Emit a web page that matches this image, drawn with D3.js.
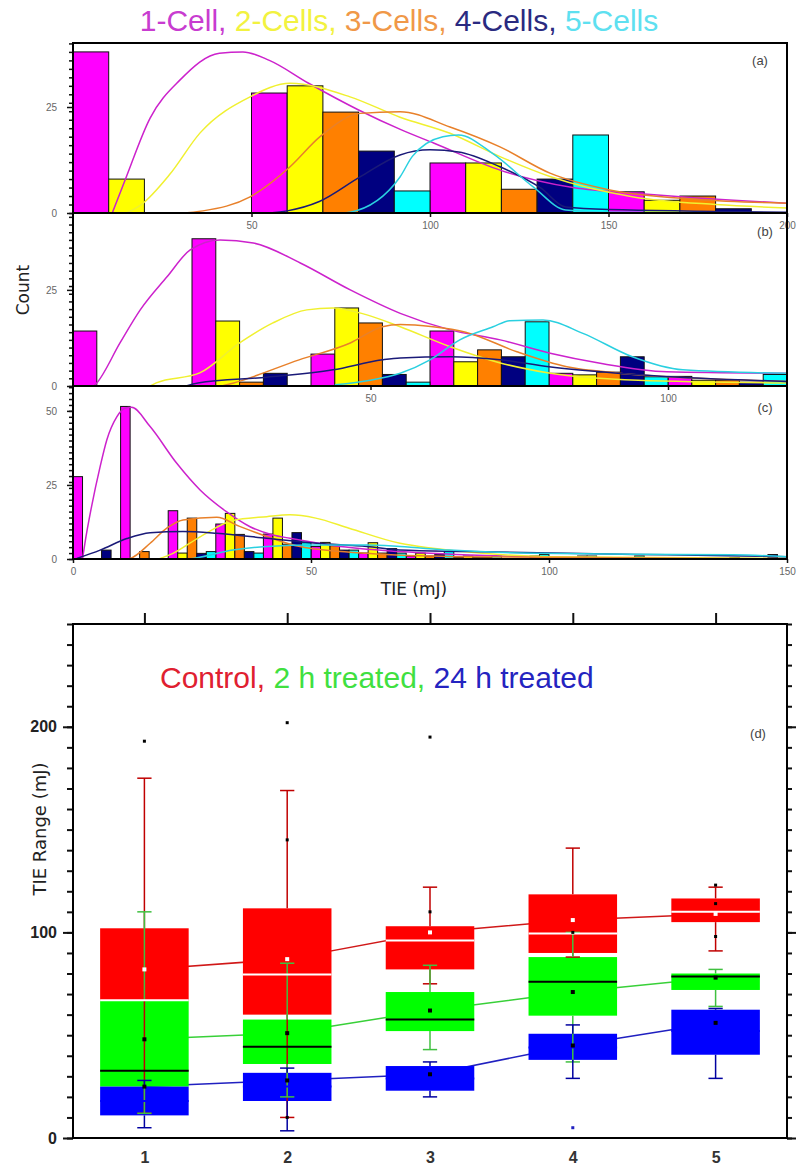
<!DOCTYPE html>
<html>
<head>
<meta charset="utf-8">
<script src="https://cdn.jsdelivr.net/npm/d3@7"></script>
<style>
  body { margin: 0; background: #fff; }
  svg { display: block; }
  text { font-family: "Liberation Sans", Arial, sans-serif; }
</style>
</head>
<body>
<div id="chart"></div>
<script>
// ---------- histogram data (panels a, b, c) ----------
const cells = ["1-Cell", "2-Cells", "3-Cells", "4-Cells", "5-Cells"];
const barColors = ["#ff00ff", "#ffff00", "#ff8000", "#000080", "#00ffff"];
const curveColors = ["#cc22cc", "#f0f030", "#e8802a", "#1a1a78", "#2ad0e0"];
const titleColors = ["#c83cd0", "#f2f240", "#f09848", "#2a2a80", "#5ee0f0"];

// (a) bins of 50 mJ, one slot per cell group
const binStartA = [0, 50, 100, 150];
const countsA = [
  [38, 28.3, 11.8, 5],
  [8, 30, 11.8, 3],
  [0, 23.8, 5.6, 4],
  [0, 14.6, 8, 1],
  [0, 5.2, 18.4, 0]
];
const fitsA = [
  [[11,0],[14.6,7.8],[21.6,22.4],[30,31.4],[41,37.7],[47.6,38],[55,36],[66,30.6],[80,24.3],[92,19.6],[101,16.5],[120,10],[140,6],[160,4.5],[185,3],[200,2.3]],
  [[15,0],[19,1.9],[27,9],[35.6,18.9],[49.6,27.4],[60.8,30.6],[77.6,27.4],[91.6,22.6],[105.6,18.8],[119.6,13.3],[133.6,8.6],[157,3.8],[180,2],[200,1.2]],
  [[30,0],[36.4,0.5],[49.6,3.8],[60.8,10.9],[69.2,18],[80.4,23.5],[91.6,23.9],[105.6,20.3],[119.6,15.6],[133.6,9.4],[150,5.5],[175,3.2],[200,2.3]],
  [[55,0],[60,0.5],[69,2.7],[80.4,8.5],[91.6,13.7],[100,14.9],[108,14.4],[119.6,10.9],[131,5.9],[138,1.4],[150,0.8],[200,0.2]],
  [[75,0],[77.6,0.2],[91.6,8.5],[95,13.3],[103.6,18],[108,18.4],[117.6,14],[129,6.1],[138,0.7],[150,0.2],[200,0]]
];

// (b) bins of 20 mJ
const binStartB = [0, 20, 40, 60, 80, 100];
const countsB = [
  [14.3, 38.3, 8.3, 14.3, 3.3, 2.5],
  [0, 16.9, 20.3, 6.3, 2.9, 1.5],
  [0, 1, 16.4, 9.4, 3.6, 1.5],
  [0, 3.3, 3, 7.6, 7.6, 1],
  [0, 0, 1, 16.7, 2.4, 3]
];
const fitsB = [
  [[3.5,0],[4,0.8],[7.9,11.2],[11.3,19.8],[15.8,28.4],[19.7,35.4],[24.7,38],[30.3,37.2],[38.2,32],[46.6,25],[55,18.9],[63.4,14.6],[71.8,12],[80.2,8.5],[88.6,5.9],[99.8,3.7],[120,3.3]],
  [[13,0],[14,0.8],[21.3,3.4],[28,11.2],[33.6,16.4],[39.3,19.8],[43.7,20.3],[49.4,18.5],[55,15.4],[63.4,10.2],[71.8,6],[80,3.4],[95,1.5],[120,0.8]],
  [[25,0],[27,0.8],[38,6.8],[46.6,11.2],[52,15.4],[55,16],[60.5,15.4],[66,14],[74.6,8.9],[83,5],[91.4,3.4],[105,2],[120,1.2]],
  [[19,0],[21,0.8],[32.6,2.3],[43.7,4.2],[52,6.8],[55,7.3],[63.4,7.6],[71.8,6.8],[80,5],[91,3.4],[102,2.3],[120,1.2]],
  [[44,0.3],[50,1.5],[55,3.3],[60,6.8],[65,12],[70.6,15.4],[73.4,17],[79,17.2],[85.7,13.7],[94,7.6],[102.5,4.2],[120,3.3]]
];

// (c) bins of 10 mJ
const binStartC = [0, 10, 20, 30, 40, 50, 60, 70, 80, 90, 100, 110, 120, 130, 140];
const countsC = [
  [27.8, 51.5, 16.3, 11.8, 8.4, 4.2, 2, 1, 0.5, 0, 0, 0, 0, 0, 0],
  [0, 0, 2, 15.4, 13.8, 5.6, 5.5, 2, 1, 0, 0, 0, 0, 0, 0],
  [0, 2.5, 13.8, 8.3, 5, 4.5, 2, 1, 0.5, 0, 0, 0, 0, 0, 0],
  [3, 0, 1.9, 2.5, 8.9, 3, 3.5, 1.5, 0.5, 1, 1, 0, 0, 0, 1.5],
  [0, 0, 2.5, 2, 5.5, 3, 2, 2.5, 1, 1.5, 1, 1, 0.5, 0.5, 0]
];
const fitsC = [
  [[2,0],[2.5,5.3],[3.9,17.7],[5.7,31.2],[7.1,40.2],[9.2,48],[10.9,50.9],[12.3,51.2],[16.2,44.7],[21.8,32.3],[26.7,23.3],[32.3,15.9],[37.2,10.9],[42,8.1],[45.6,7],[55,4.5],[68.7,2.5],[90,1],[120,0.3]],
  [[18,0],[21,1.9],[26.7,7.5],[33.6,13],[40.7,14.3],[45.6,14.9],[51,13.8],[58,10.4],[68.7,5.3],[75.6,3.6],[86,1.9],[100,0.8],[150,0.2]],
  [[11,0],[12,0.2],[16.2,5.3],[19.7,10.4],[23.1,13.2],[30.2,14.1],[35,11],[40.7,7.6],[47.7,4.2],[61.8,1.9],[80,0.8],[150,0.1]],
  [[0.8,0.2],[5.7,3],[11.3,6.9],[16.2,8.9],[23.1,9.3],[30.2,8.7],[40.7,7],[51.2,5.3],[61.8,4.2],[68.7,3],[82.8,2.5],[103.8,1.9],[124.8,1.4],[150,0.8]],
  [[24,0],[25.2,0.2],[33.6,3],[40.7,4.2],[51.2,4.7],[61.8,4.7],[68.7,4.2],[79,3],[96.6,1.9],[117.6,1.6],[138.7,1.4],[150,0.8]]
];

// ---------- box chart data (panel d) ----------
const groupsD = [1, 2, 3, 4, 5];
const treatments = ["Control", "2 h treated", "24 h treated"];
const boxColors = ["#ff0000", "#00ff00", "#0000ff"];
const lineColors = ["#d01818", "#38d038", "#2020c0"];
const whiskerColors = ["#c00000", "#40c040", "#0000a0"];
const medianColors = ["#ffffff", "#000000", "#0000ff"];
const meanColors = ["#ffffff", "#000000", "#000000"];
const legendColors = ["#e02030", "#40e040", "#2424c0"];
const q1D = [[67, 60, 82, 90, 105], [25, 36, 52, 59.5, 72], [11, 18, 23, 38, 40.5]];
const q3D = [[102, 111.7, 103, 118.5, 116.5], [67, 57.6, 71, 88, 80], [25, 31.7, 35, 50.7, 62.4]];
const medianD = [[67, 79.5, 96, 99.5, 110], [32.7, 44.4, 57.6, 76, 78.5], [18, 25, 29, 44, 52]];
const meanD = [[82, 87, 100, 106, 109], [48, 51, 62, 71, 78], [25, 28, 31, 45, 56]];
const whiskerLoD = [[12, 10, 75, 88, 91], [12, 20, 43, 37, 64], [5, 3.5, 20, 29, 29]];
const whiskerHiD = [[175, 169, 122, 141, 122], [110, 85, 84, 100, 82], [28, 34, 37, 55, 63]];
const outliersD = [
  [[1, 193], [2, 202], [2, 145], [2, 10], [3, 195], [3, 110], [4, 100], [5, 123], [5, 114], [5, 98]],
  [],
  [[4, 5]]
];

// ---------- layout ----------
const W = 799, H = 1168;
const L = 73, R = 787;

const svg = d3.select("#chart").append("svg")
    .attr("width", W)
    .attr("height", H)
    .style("background", "#fff");

const panels = [
  { id: "a", top: 43, bottom: 213, xMax: 200, yMax: 40.1, binStart: binStartA, binWidth: 50,
    counts: countsA, fits: fitsA, xTicks: [50, 100, 150, 200], yTicks: [0, 25] },
  { id: "b", top: 213, bottom: 386, xMax: 120, yMax: 45, binStart: binStartB, binWidth: 20,
    counts: countsB, fits: fitsB, xTicks: [50, 100], yTicks: [0, 25] },
  { id: "c", top: 386, bottom: 559, xMax: 150, yMax: 58.4, binStart: binStartC, binWidth: 10,
    counts: countsC, fits: fitsC, xTicks: [0, 50, 100, 150], yTicks: [0, 25, 50] }
];

// title line with coloured group names
const title = svg.append("text")
    .attr("x", 399)
    .attr("y", 31)
    .attr("text-anchor", "middle")
    .style("font-size", "30px");
cells.forEach((c, i) => {
    title.append("tspan")
        .attr("fill", titleColors[i])
        .text(c + (i < cells.length - 1 ? ", " : ""));
});

function drawPanel(p) {
    const x = d3.scaleLinear().domain([0, p.xMax]).range([L, R]);
    const y = d3.scaleLinear().domain([0, p.yMax]).range([p.bottom, p.top]);
    const clipId = "clip-" + p.id;
    svg.append("clipPath").attr("id", clipId)
        .append("rect")
        .attr("x", L).attr("y", p.top)
        .attr("width", R - L).attr("height", p.bottom - p.top);

    const slot = p.binWidth / cells.length;
    const bars = [];
    p.counts.forEach((arr, s) => arr.forEach((c, b) => {
        if (c > 0) bars.push({ s: s, x0: p.binStart[b] + s * slot, c: c });
    }));

    const g = svg.append("g").attr("clip-path", `url(#${clipId})`);
    g.append("g").selectAll("rect")
        .data(bars)
        .join("rect")
        .attr("x", d => x(d.x0))
        .attr("width", d => x(d.x0 + slot) - x(d.x0))
        .attr("y", d => y(d.c))
        .attr("height", d => y(0) - y(d.c))
        .attr("fill", d => barColors[d.s])
        .attr("stroke", "#111")
        .attr("stroke-width", 1);

    const line = d3.line()
        .x(d => x(d[0]))
        .y(d => y(d[1]))
        .curve(d3.curveMonotoneX);
    g.append("g").selectAll("path")
        .data(p.fits)
        .join("path")
        .attr("d", line)
        .attr("fill", "none")
        .attr("stroke", (d, i) => curveColors[i])
        .attr("stroke-width", 1.5);

    // minor ticks on the left
    svg.append("g")
        .attr("transform", `translate(${L},0)`)
        .call(d3.axisLeft(y).tickValues(d3.range(0, p.yMax, 2)).tickSize(4).tickSizeOuter(0).tickFormat(""))
        .call(a => a.select(".domain").remove())
        .call(a => a.selectAll("line").attr("stroke", "#111").attr("stroke-width", 1.5));
    svg.append("g")
        .attr("transform", `translate(${L},0)`)
        .call(d3.axisLeft(y).tickValues(p.yTicks).tickSize(6).tickPadding(10).tickSizeOuter(0))
        .call(a => a.select(".domain").remove())
        .call(a => a.selectAll("line").attr("stroke", "#111").attr("stroke-width", 1.5))
        .call(a => a.selectAll("text").attr("fill", "#666").style("font-size", "10px"));
    svg.append("g")
        .attr("transform", `translate(0,${p.bottom})`)
        .call(d3.axisBottom(x).tickValues(p.xTicks).tickSize(4).tickPadding(5).tickSizeOuter(0))
        .call(a => a.select(".domain").remove())
        .call(a => a.selectAll("line").attr("stroke", "#111").attr("stroke-width", 1.5))
        .call(a => a.selectAll("text").attr("fill", "#666").style("font-size", "10px"));

    svg.append("rect")
        .attr("x", L).attr("y", p.top)
        .attr("width", R - L).attr("height", p.bottom - p.top)
        .attr("fill", "none")
        .attr("stroke", "#000")
        .attr("stroke-width", 2);
}

panels.forEach(drawPanel);

const tags = [["(a)", 760, 65], ["(b)", 765, 236], ["(c)", 765, 412]];
tags.forEach(t => {
    svg.append("text")
        .attr("x", t[1]).attr("y", t[2])
        .attr("text-anchor", "middle")
        .attr("fill", "#444")
        .style("font-size", "13px")
        .text(t[0]);
});

svg.append("text")
    .attr("transform", "translate(29,290) rotate(-90)")
    .attr("text-anchor", "middle")
    .attr("fill", "#222")
    .style("font-family", "'DejaVu Sans', sans-serif")
    .style("font-size", "17px")
    .text("Count");
svg.append("text")
    .attr("x", 414).attr("y", 595)
    .attr("text-anchor", "middle")
    .attr("fill", "#222")
    .style("font-family", "'DejaVu Sans', sans-serif")
    .style("font-size", "17px")
    .text("TIE (mJ)");

// ---------- panel d: box chart ----------
const dTop = 624, dBottom = 1138;
const xD = d3.scaleLinear().domain([0.5, 5.5]).range([L, R]);
const yD = d3.scaleLinear().domain([0, 250]).range([dBottom, dTop]);
const halfBox = 0.31, halfCap = 0.05;

const gd = svg.append("g");

// lines through the means
const meanLine = d3.line().x((d, i) => xD(groupsD[i])).y(d => yD(d));
gd.append("g").selectAll("path")
    .data(meanD)
    .join("path")
    .attr("d", meanLine)
    .attr("fill", "none")
    .attr("stroke", (d, i) => lineColors[i])
    .attr("stroke-width", 1.5);

// boxes
treatments.forEach((t, s) => {
    gd.append("g").selectAll("rect")
        .data(groupsD)
        .join("rect")
        .attr("x", g => xD(g - halfBox))
        .attr("width", g => xD(g + halfBox) - xD(g - halfBox))
        .attr("y", (g, i) => yD(q3D[s][i]))
        .attr("height", (g, i) => yD(q1D[s][i]) - yD(q3D[s][i]))
        .attr("fill", boxColors[s]);
});

// whiskers and caps
treatments.forEach((t, s) => {
    const wg = gd.append("g").attr("stroke", whiskerColors[s]).attr("stroke-width", 1.5);
    wg.selectAll("line.lo")
        .data(groupsD)
        .join("line")
        .attr("class", "lo")
        .attr("x1", g => xD(g)).attr("x2", g => xD(g))
        .attr("y1", (g, i) => yD(q1D[s][i])).attr("y2", (g, i) => yD(whiskerLoD[s][i]));
    wg.selectAll("line.hi")
        .data(groupsD)
        .join("line")
        .attr("class", "hi")
        .attr("x1", g => xD(g)).attr("x2", g => xD(g))
        .attr("y1", (g, i) => yD(q3D[s][i])).attr("y2", (g, i) => yD(whiskerHiD[s][i]));
    wg.selectAll("line.caplo")
        .data(groupsD)
        .join("line")
        .attr("class", "caplo")
        .attr("x1", g => xD(g - halfCap)).attr("x2", g => xD(g + halfCap))
        .attr("y1", (g, i) => yD(whiskerLoD[s][i])).attr("y2", (g, i) => yD(whiskerLoD[s][i]));
    wg.selectAll("line.caphi")
        .data(groupsD)
        .join("line")
        .attr("class", "caphi")
        .attr("x1", g => xD(g - halfCap)).attr("x2", g => xD(g + halfCap))
        .attr("y1", (g, i) => yD(whiskerHiD[s][i])).attr("y2", (g, i) => yD(whiskerHiD[s][i]));
});

// medians, means, outliers
treatments.forEach((t, s) => {
    gd.append("g").selectAll("line")
        .data(groupsD)
        .join("line")
        .attr("x1", g => xD(g - halfBox)).attr("x2", g => xD(g + halfBox))
        .attr("y1", (g, i) => yD(medianD[s][i])).attr("y2", (g, i) => yD(medianD[s][i]))
        .attr("stroke", medianColors[s])
        .attr("stroke-width", 2);
    gd.append("g").selectAll("rect")
        .data(groupsD)
        .join("rect")
        .attr("x", g => xD(g) - 2)
        .attr("y", (g, i) => yD(meanD[s][i]) - 2)
        .attr("width", 4).attr("height", 4)
        .attr("fill", meanColors[s]);
    gd.append("g").selectAll("rect")
        .data(outliersD[s])
        .join("rect")
        .attr("x", d => xD(d[0]) - 1.5)
        .attr("y", d => yD(d[1]) - 1.5)
        .attr("width", 3).attr("height", 3)
        .attr("fill", s === 2 ? "#2020c0" : "#000");
});

// axes of panel d
const yMinorD = d3.range(0, 251, 10);
svg.append("g")
    .attr("transform", `translate(${L},0)`)
    .call(d3.axisLeft(yD).tickValues(yMinorD).tickSize(6).tickSizeOuter(0).tickFormat(""))
    .call(a => a.select(".domain").remove())
    .call(a => a.selectAll("line").attr("stroke", "#111").attr("stroke-width", 2));
svg.append("g")
    .attr("transform", `translate(${L},0)`)
    .call(d3.axisLeft(yD).tickValues([0, 100, 200]).tickSize(10).tickPadding(6).tickSizeOuter(0))
    .call(a => a.select(".domain").remove())
    .call(a => a.selectAll("line").attr("stroke", "#111").attr("stroke-width", 2))
    .call(a => a.selectAll("text").attr("fill", "#222").style("font-size", "16px").style("font-weight", "bold"));
svg.append("g")
    .attr("transform", `translate(${R},0)`)
    .call(d3.axisRight(yD).tickValues(yMinorD).tickSize(5).tickSizeOuter(0).tickFormat(""))
    .call(a => a.select(".domain").remove())
    .call(a => a.selectAll("line").attr("stroke", "#111").attr("stroke-width", 2));
svg.append("g")
    .attr("transform", `translate(${R},0)`)
    .call(d3.axisRight(yD).tickValues([0, 100, 200]).tickSize(9).tickSizeOuter(0).tickFormat(""))
    .call(a => a.select(".domain").remove())
    .call(a => a.selectAll("line").attr("stroke", "#111").attr("stroke-width", 2));
svg.append("g")
    .attr("transform", `translate(0,${dTop})`)
    .call(d3.axisTop(xD).tickValues(groupsD).tickSize(11).tickSizeOuter(0).tickFormat(""))
    .call(a => a.select(".domain").remove())
    .call(a => a.selectAll("line").attr("stroke", "#111").attr("stroke-width", 2));
svg.append("g")
    .attr("transform", `translate(0,${dBottom})`)
    .call(d3.axisBottom(xD).tickValues(groupsD).tickSize(0).tickPadding(14).tickSizeOuter(0).tickFormat(d3.format("d")))
    .call(a => a.select(".domain").remove())
    .call(a => a.selectAll("text").attr("fill", "#333").style("font-size", "16px").style("font-weight", "bold"));

svg.append("rect")
    .attr("x", L).attr("y", dTop)
    .attr("width", R - L).attr("height", dBottom - dTop)
    .attr("fill", "none")
    .attr("stroke", "#000")
    .attr("stroke-width", 2);

const legend = svg.append("text")
    .attr("x", 160).attr("y", 688)
    .style("font-size", "30px");
treatments.forEach((t, i) => {
    legend.append("tspan")
        .attr("fill", legendColors[i])
        .text(t + (i < treatments.length - 1 ? ", " : ""));
});

svg.append("text")
    .attr("x", 758).attr("y", 738)
    .attr("text-anchor", "middle")
    .attr("fill", "#444")
    .style("font-size", "13px")
    .text("(d)");

svg.append("text")
    .attr("transform", "translate(46,829) rotate(-90)")
    .attr("text-anchor", "middle")
    .attr("fill", "#222")
    .style("font-family", "'DejaVu Sans', sans-serif")
    .style("font-size", "18px")
    .text("TIE Range (mJ)");
</script>
</body>
</html>
